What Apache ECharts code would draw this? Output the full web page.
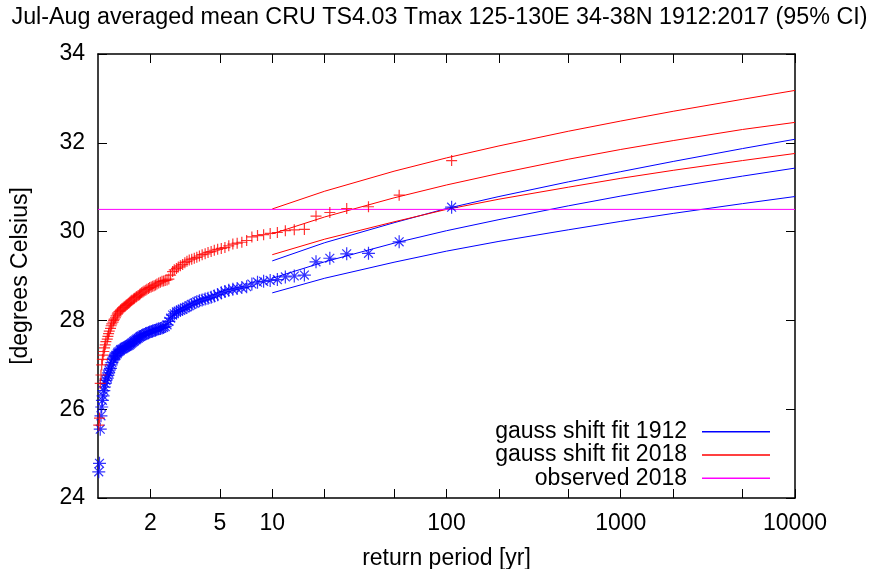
<!DOCTYPE html>
<html>
<head>
<meta charset="utf-8">
<title>return period</title>
<script src="https://cdn.jsdelivr.net/npm/echarts@6/dist/echarts.min.js"></script>
<style>
html, body { margin: 0; padding: 0; background: #fff; }
#chart { width: 879px; height: 569px; }
</style>
</head>
<body>
<div id="chart"></div>
<script>
// return periods of the ranked observations (same for both point sets)
var returnPeriod = [
	107, 53.5, 35.67, 26.75, 21.4, 17.83, 15.29, 13.38, 11.89, 10.7,
	9.73, 8.92, 8.23, 7.64, 7.13, 6.69, 6.29, 5.94, 5.63, 5.35,
	5.1, 4.86, 4.65, 4.46, 4.28, 4.12, 3.96, 3.82, 3.69, 3.57,
	3.45, 3.34, 3.24, 3.15, 3.06, 2.97, 2.89, 2.82, 2.74, 2.68,
	2.61, 2.55, 2.49, 2.43, 2.38, 2.33, 2.28, 2.23, 2.18, 2.14,
	2.1, 2.06, 2.02, 1.98, 1.95, 1.91, 1.88, 1.84, 1.81, 1.78,
	1.75, 1.73, 1.7, 1.67, 1.65, 1.62, 1.6, 1.57, 1.55, 1.53,
	1.51, 1.49, 1.47, 1.45, 1.43, 1.41, 1.39, 1.37, 1.35, 1.34,
	1.32, 1.3, 1.29, 1.27, 1.26, 1.24, 1.23, 1.22, 1.2, 1.19,
	1.18, 1.16, 1.15, 1.14, 1.13, 1.11, 1.1, 1.09, 1.08, 1.07,
	1.06, 1.05, 1.04, 1.03, 1.02, 1.01
];
// 观测值 (1912 气候)
var obs1912 = [
	30.55, 29.77, 29.51, 29.50, 29.40, 29.32, 29.02, 29.00, 28.98, 28.92,
	28.90, 28.88, 28.86, 28.82, 28.76, 28.74, 28.72, 28.70, 28.68, 28.65,
	28.62, 28.58, 28.55, 28.52, 28.50, 28.48, 28.46, 28.44, 28.42, 28.39,
	28.36, 28.33, 28.30, 28.28, 28.25, 28.23, 28.21, 28.19, 28.15, 28.12,
	28.05, 27.98, 27.90, 27.86, 27.84, 27.83, 27.82, 27.81, 27.80, 27.78,
	27.77, 27.76, 27.75, 27.74, 27.72, 27.71, 27.70, 27.68, 27.67, 27.65,
	27.64, 27.62, 27.60, 27.58, 27.56, 27.54, 27.52, 27.50, 27.48, 27.46,
	27.44, 27.43, 27.42, 27.41, 27.40, 27.38, 27.36, 27.35, 27.34, 27.32,
	27.30, 27.28, 27.25, 27.22, 27.20, 27.18, 27.15, 27.12, 27.05, 27.00,
	26.92, 26.88, 26.82, 26.76, 26.70, 26.65, 26.58, 26.50, 26.42, 26.30,
	26.20, 26.05, 25.85, 25.55, 24.78, 24.59
];
// 观测值 (移到 2018 气候)
var obs2018 = [
	31.60, 30.82, 30.56, 30.52, 30.43, 30.35, 30.05, 30.04, 30.02, 29.98,
	29.96, 29.93, 29.91, 29.88, 29.80, 29.76, 29.74, 29.72, 29.68, 29.64,
	29.62, 29.60, 29.58, 29.55, 29.53, 29.50, 29.48, 29.45, 29.42, 29.40,
	29.38, 29.36, 29.33, 29.30, 29.26, 29.23, 29.20, 29.17, 29.14, 29.10,
	29.02, 28.93, 28.91, 28.90, 28.89, 28.88, 28.86, 28.84, 28.82, 28.80,
	28.78, 28.77, 28.75, 28.74, 28.72, 28.70, 28.68, 28.66, 28.64, 28.62,
	28.60, 28.58, 28.56, 28.54, 28.52, 28.50, 28.48, 28.46, 28.44, 28.42,
	28.40, 28.38, 28.36, 28.34, 28.32, 28.30, 28.28, 28.26, 28.24, 28.22,
	28.20, 28.17, 28.14, 28.10, 28.06, 28.03, 28.00, 27.96, 27.92, 27.88,
	27.82, 27.76, 27.70, 27.64, 27.58, 27.52, 27.45, 27.38, 27.30, 27.22,
	27.12, 27.00, 26.77, 26.58, 25.80, 25.64
];

// 拟合曲线 (中值) 与 95% 置信区间
var fitPeriod = [10, 20, 50, 100, 200, 500, 1000, 2000, 5000, 10000];
var fit1912 = [28.95, 29.32, 29.74, 30.02, 30.27, 30.58, 30.8, 31.0, 31.25, 31.43];
var fit2018 = [29.95, 30.33, 30.76, 31.05, 31.31, 31.63, 31.85, 32.05, 32.3, 32.46];
var ci1912Hi = [29.34, 29.75, 30.2, 30.52, 30.79, 31.12, 31.35, 31.58, 31.87, 32.08];
var ci1912Lo = [28.62, 28.95, 29.31, 29.56, 29.78, 30.04, 30.23, 30.41, 30.63, 30.79];
var ci2018Hi = [30.51, 30.91, 31.36, 31.66, 31.93, 32.26, 32.49, 32.71, 32.98, 33.18];
var ci2018Lo = [29.48, 29.83, 30.22, 30.5, 30.73, 31.0, 31.2, 31.38, 31.6, 31.76];
// 2018 观测
var observedPeriod = [1, 10000];
var observed2018 = [30.5, 30.5];

var xTicks = [2, 5, 10, 20, 50, 100, 200, 500, 1000, 2000, 5000, 10000];
var xLabels = [2, 5, 10, 100, 1000, 10000];

function pairs(xs, ys) {
	var out = [];
	for (var i = 0; i < xs.length; i++) {
		out.push([xs[i], ys[i]]);
	}
	return out;
}

var font = 'Liberation Sans, Arial, Helvetica, sans-serif';
var plusPath = 'path://M0,5L10,5M5,0L5,10';
var starPath = 'path://M0,5L10,5M5,0L5,10M1.6,1.6L8.4,8.4M1.6,8.4L8.4,1.6';

function fitLine(name, color, xs, ys) {
	return {
		name : name,
		type : 'line',
		data : pairs(xs, ys),
		symbol : 'none',
		smooth : false,
		lineStyle : { color : color, width : 1 },
		itemStyle : { color : color },
		z : 2
	};
}

var myChart = echarts.init(document.getElementById('chart'));

var axisLineStyle = { color : '#000', width : 1.5 };
var tickStyle = { color : '#000', width : 1 };

var option = {
	animation : false,
	backgroundColor : '#fff',
	title : {
		text : 'Jul-Aug averaged mean CRU TS4.03 Tmax 125-130E 34-38N 1912:2017 (95% CI)',
		left : 'center',
		top : 6,
		padding : 0,
		textStyle : { fontFamily : font, fontSize : 23.3, fontWeight : 'normal', color : '#000' }
	},
	legend : {
		data : [ 'gauss shift fit 1912', 'gauss shift fit 2018', 'observed 2018' ],
		orient : 'vertical',
		align : 'right',
		right : 109,
		top : 420,
		padding : 0,
		itemGap : 0,
		itemWidth : 68,
		itemHeight : 1.5,
		icon : 'rect',
		selectedMode : false,
		textStyle : { fontFamily : font, fontSize : 23, color : '#000', lineHeight : 23.3, padding : [0, 10, 0, 0] }
	},
	grid : {
		left : 98,
		right : 84,
		top : 54,
		bottom : 71,
		containLabel : false,
		outerBoundsMode : 'none'
	},
	xAxis : [ {
		type : 'log',
		logBase : 10,
		min : 1,
		max : 10000,
		position : 'bottom',
		name : 'return period [yr]',
		nameLocation : 'middle',
		nameGap : 49,
		nameTextStyle : { fontFamily : font, fontSize : 23, color : '#000' },
		axisLine : { lineStyle : axisLineStyle },
		axisTick : { inside : true, length : 9, lineStyle : tickStyle, customValues : xTicks },
		axisLabel : { fontFamily : font, fontSize : 23, color : '#000', margin : 14, customValues : xLabels,
			formatter : function(v) { return String(v); } },
		splitLine : { show : false }
	}, {
		type : 'log',
		logBase : 10,
		min : 1,
		max : 10000,
		position : 'top',
		axisLine : { lineStyle : axisLineStyle },
		axisTick : { inside : true, length : 9, lineStyle : tickStyle, customValues : xTicks },
		axisLabel : { show : false },
		splitLine : { show : false }
	} ],
	yAxis : [ {
		type : 'value',
		min : 24,
		max : 34,
		interval : 2,
		position : 'left',
		name : '[degrees Celsius]',
		nameLocation : 'middle',
		nameGap : 66,
		nameTextStyle : { fontFamily : font, fontSize : 23, color : '#000' },
		axisLine : { show : true, lineStyle : axisLineStyle },
		axisTick : { show : true, inside : true, length : 9, lineStyle : tickStyle },
		axisLabel : { fontFamily : font, fontSize : 23, color : '#000', margin : 13 },
		splitLine : { show : false }
	}, {
		type : 'value',
		min : 24,
		max : 34,
		interval : 2,
		position : 'right',
		axisLine : { show : true, lineStyle : axisLineStyle },
		axisTick : { show : true, inside : true, length : 9, lineStyle : tickStyle },
		axisLabel : { show : false },
		splitLine : { show : false }
	} ],
	series : [
		fitLine('gauss shift fit 1912', '#0000ff', fitPeriod, fit1912),
		fitLine('gauss shift fit 1912', '#0000ff', fitPeriod, ci1912Hi),
		fitLine('gauss shift fit 1912', '#0000ff', fitPeriod, ci1912Lo),
		fitLine('gauss shift fit 2018', '#ff0000', fitPeriod, fit2018),
		fitLine('gauss shift fit 2018', '#ff0000', fitPeriod, ci2018Hi),
		fitLine('gauss shift fit 2018', '#ff0000', fitPeriod, ci2018Lo),
		{
			name : 'obs 1912',
			type : 'scatter',
			data : pairs(returnPeriod, obs1912),
			symbol : starPath,
			symbolSize : 13,
			itemStyle : { color : 'transparent', borderColor : '#0000ff', borderWidth : 1.2 },
			z : 3
		}, {
			name : 'obs 2018',
			type : 'scatter',
			data : pairs(returnPeriod, obs2018),
			symbol : plusPath,
			symbolSize : 11,
			itemStyle : { color : 'transparent', borderColor : '#ff0000', borderWidth : 1.2 },
			z : 3
		},
		fitLine('observed 2018', '#ff00ff', observedPeriod, observed2018)
	]
};
myChart.setOption(option);
</script>
</body>
</html>
